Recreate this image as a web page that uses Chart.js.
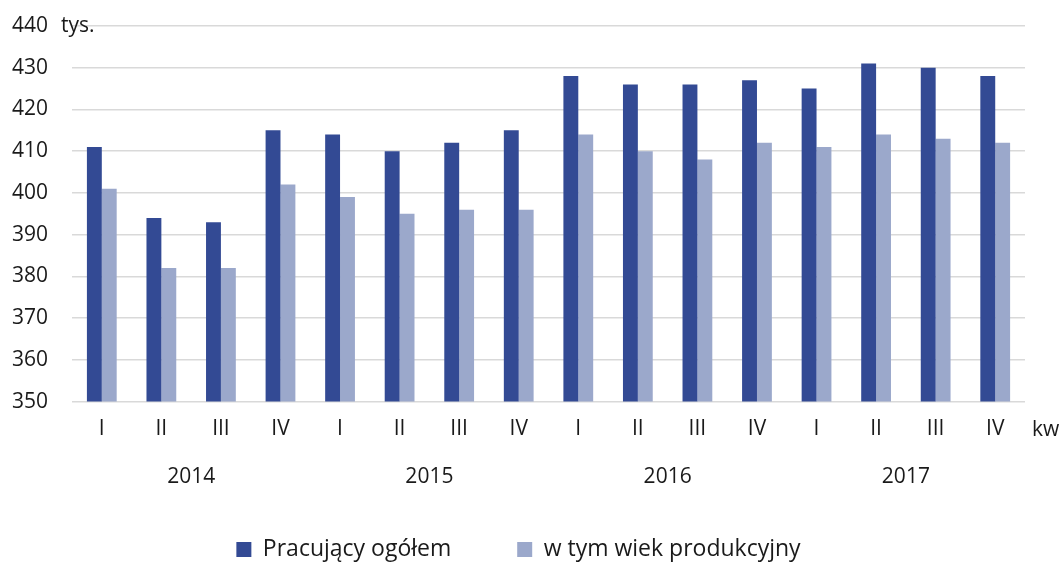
<!DOCTYPE html>
<html>
<head>
<meta charset="utf-8">
<script src="https://cdn.jsdelivr.net/npm/chart.js@4/dist/chart.umd.min.js"></script>
<style>
  html, body { margin: 0; padding: 0; background: #fff; }
  #wrap { width: 1059px; height: 563px; }
</style>
</head>
<body>
<div id="wrap"><canvas id="mainChart"></canvas></div>
<script>
const quarters = ['I','II','III','IV','I','II','III','IV','I','II','III','IV','I','II','III','IV'];
const years = ['2014','2015','2016','2017'];
const pracujacy = [411,394,393,415, 414,410,412,415, 428,426,426,427, 425,431,430,428];
const wiekProd  = [401,382,382,402, 399,395,396,396, 414,410,408,412, 411,414,413,412];

const FONT = "'Open Sans', 'Noto Sans', sans-serif";
const TXT = '#1a1a1a';

// extra texts: "tys." next to the top tick and "kw" after the quarter labels
const unitLabels = {
  id: 'unitLabels',
  afterDraw(chart) {
    const c = chart.ctx;
    const y = chart.scales.y;
    const x = chart.scales.x;
    c.save();
    c.fillStyle = TXT;
    c.font = '21px ' + FONT;
    c.textBaseline = 'middle';
    c.textAlign = 'left';
    c.fillText('tys.', 61, y.getPixelForValue(440));
    c.fillText('kw', chart.chartArea.right + 7, x.top + 15 + 13);
    c.restore();
  }
};

// chart.js counts tick padding twice in fit(), take one back
function trimAxis(scale) {
  const pad = scale.options.ticks.padding;
  if (scale.isHorizontal()) scale.height -= pad;
  else scale.width -= pad;
  scale.paddingTop = 0;
  scale.paddingBottom = 0;
  scale.paddingLeft = 0;
  scale.paddingRight = 0;
}

const ctx = document.getElementById('mainChart').getContext('2d');
window.myChart = new Chart(ctx, {
  type: 'bar',
  data: {
    labels: quarters,
    datasets: [{
      label: 'Pracujący ogółem',
      data: pracujacy,
      backgroundColor: '#334a94',
      categoryPercentage: 0.5,
      barPercentage: 1.0
    }, {
      label: 'w tym wiek produkcyjny',
      data: wiekProd,
      backgroundColor: '#9ba8cb',
      categoryPercentage: 0.5,
      barPercentage: 1.0
    }]
  },
  options: {
    responsive: true,
    maintainAspectRatio: false,
    animation: false,
    layout: { padding: { top: 26, right: 34, left: 12, bottom: -8 } },
    plugins: {
      tooltip: { enabled: false },
      legend: {
        position: 'bottom',
        labels: {
          boxWidth: 15, boxHeight: 15, padding: 48,
          color: TXT,
          font: { family: FONT, size: 23 },
          generateLabels(chart) {
            const items = Chart.defaults.plugins.legend.labels.generateLabels(chart);
            items[0].text = items[0].text + '   ';
            return items;
          }
        }
      }
    },
    scales: {
      x: {
        grid: { display: false, drawTicks: false },
        border: { display: false },
        ticks: { color: TXT, font: { family: FONT, size: 21 }, padding: 15 },
        afterFit: trimAxis
      },
      x2: {
        type: 'category',
        labels: years,
        position: 'bottom',
        grid: { display: false, drawTicks: false },
        border: { display: false },
        ticks: { color: TXT, font: { family: FONT, size: 21 }, padding: 23 },
        afterFit: trimAxis
      },
      y: {
        min: 350, max: 440,
        ticks: { stepSize: 10, color: TXT, font: { family: FONT, size: 21 }, padding: 24 },
        grid: { color: '#d9d9d9', lineWidth: 1.5, drawTicks: false },
        border: { display: false },
        afterFit: trimAxis
      }
    }
  },
  plugins: [unitLabels]
});
</script>
</body>
</html>
